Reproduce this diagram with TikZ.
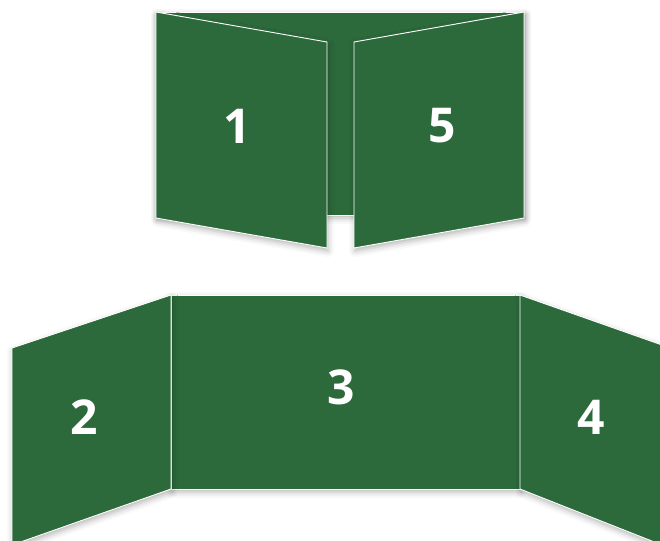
\documentclass[tikz,border=0pt]{standalone}
\usepackage{fontspec}
\setsansfont{Open Sans}
\usetikzlibrary{shadows.blur}
\definecolor{leafgreen}{HTML}{2C6A3B}

\begin{document}
\begin{tikzpicture}[
    x=1pt, y=-1pt,
    panel/.style={draw=white, line width=0.9pt, fill=leafgreen, line join=miter,
        blur shadow={shadow xshift=1pt, shadow yshift=-3pt, shadow blur radius=6pt, shadow opacity=30}},
    pagenum/.style={font=\sffamily\bfseries\fontsize{48}{48}\selectfont, text=white, inner sep=0pt}
]
    \useasboundingbox (0,0) rectangle (660,540);

    % Folder, front view
    \draw[panel] (156,12) rectangle (524,215);
    \draw[panel] (156,12) -- (327,42) -- (327,248) -- (156,218) -- cycle;
    \draw[panel] (524,12) -- (354,42) -- (354,248) -- (524,218) -- cycle;
    \node[pagenum] (p1) at (237,126) {1};
    \node[pagenum] (p5) at (442,126) {5};

    % Folder, opened out
    \draw[panel] (171,295) rectangle (520,489);
    \draw[panel] (171,295) -- (12,348) -- (12,545) -- (171,489) -- cycle;
    \draw[panel] (520,295) -- (662,345) -- (662,545) -- (520,489) -- cycle;
    \node[pagenum] (p3) at (341,387) {3};
    \node[pagenum] (p2) at (84,417) {2};
    \node[pagenum] (p4) at (591,417) {4};

\end{tikzpicture}
\end{document}
